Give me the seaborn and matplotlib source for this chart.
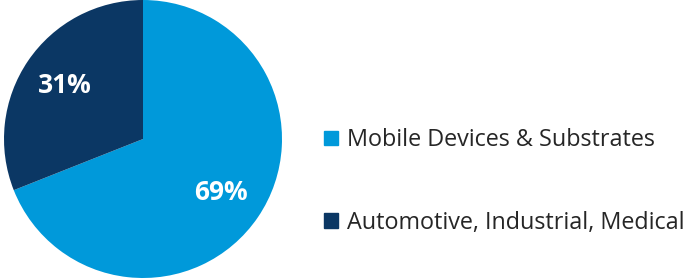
import matplotlib
matplotlib.use("Agg")
import matplotlib.pyplot as plt
import matplotlib.patches as mpatches
import seaborn as sns

# data
segments = ["Mobile Devices & Substrates", "Automotive, Industrial, Medical"]
shares = [69, 31]
colors = ["#0099DA", "#0B3764"]

sns.set_theme(style="white")
plt.rcParams["font.family"] = ["Open Sans", "DejaVu Sans"]

fig = plt.figure(figsize=(6.92, 2.79), dpi=100)
ax = fig.add_axes([4 / 692, 1 / 279, 278 / 692, 278 / 279])

wedges, texts, autotexts = ax.pie(
    shares, colors=colors, startangle=90, counterclock=False,
    autopct=lambda p: f"{p:.0f}%", pctdistance=0.68,
    wedgeprops=dict(linewidth=0),
    textprops=dict(color="white", fontsize=19, fontweight="bold"),
)
ax.set_xlim(-1, 1)
ax.set_ylim(-1, 1)
ax.set_aspect("equal")

handles = [mpatches.Patch(color=c, label=s) for c, s in zip(colors, segments)]
fig.legend(handles=handles, loc="center left", bbox_to_anchor=(312 / 692, 0.35),
           frameon=False, fontsize=16.8, handlelength=0.6, handleheight=0.6,
           handletextpad=0.42, labelspacing=2.5, labelcolor="#262626",
           borderpad=0)

fig.savefig("out.png", dpi=100)
